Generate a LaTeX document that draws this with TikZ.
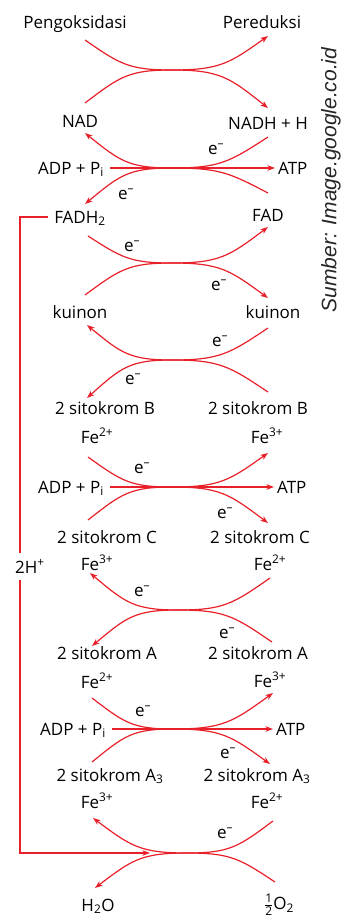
\documentclass[tikz,border=0pt]{standalone}
\usepackage{fontspec}
\setmainfont{Open Sans}
\newfontfamily\srcfont{Liberation Sans}
\usetikzlibrary{arrows.meta,calc}
\definecolor{rd}{RGB}{232,32,42}
\newcommand\xarc[3]{%
 \draw[flow] let \p1=(#1),\p2=(#2),\p3=(#3) in
 (\p1) .. controls ({\x1+0.4*(\x2-\x1)},{\y1+0.8*(\y2-\y1)}) and ({\x2-0.5*(\x2-\x1)},\y2) .. (\p2)
 .. controls ({\x2+0.5*(\x3-\x2)},\y2) and ({\x3-0.4*(\x3-\x2)},{\y3-0.8*(\y3-\y2)}) .. (\p3);}
\newcommand\el{e\textsuperscript{\textendash}}
\newcommand\halfdigit[1]{\mbox{\fontsize{12}{12}\selectfont #1}}
\begin{document}
\begin{tikzpicture}[x=1pt,y=-1pt,
 lbl/.style={font=\fontsize{17}{20}\selectfont, inner sep=0pt, text height=12pt, text depth=0pt},
 elbl/.style={lbl},
 flow/.style={draw=rd, line width=1.2pt, -{Stealth[length=7.5pt,width=5.5pt,inset=2pt]}},
 plain/.style={draw=rd, line width=1.2pt}]
\useasboundingbox (0,0) rectangle (347,921);
% labels
\node[lbl] (peng) at (75,22) {Pengoksidasi};
\node[lbl] (pered) at (262,22) {Pereduksi};
\node[lbl] (nad) at (80,121) {NAD};
\node[lbl] (nadh) at (268,123) {NADH + H};
\node[elbl] (e1) at (216,148) {\el};
\node[lbl,anchor=east] (adp1) at (104,168) {ADP + P\textsubscript{i}};
\node[lbl,anchor=west] (atp1) at (278,168) {ATP};
\node[elbl] (e2) at (126,193) {\el};
\node[lbl] (fadh) at (80,217) {FADH\textsubscript{2}};
\node[lbl] (fad) at (268,215) {FAD};
\node[elbl] (e3) at (132,245) {\el};
\node[elbl] (e4) at (219,284) {\el};
\node[lbl] (kui1) at (80,312) {kuinon};
\node[lbl] (kui2) at (273,312) {kuinon};
\node[elbl] (e5) at (220,340) {\el};
\node[elbl] (e6) at (133,378) {\el};
\node[lbl] (sb1) at (105,408) {2 sitokrom B};
\node[lbl] (sb2) at (258,408) {2 sitokrom B};
\node[lbl] (fb1) at (97,437) {Fe\textsuperscript{2+}};
\node[lbl] (fb2) at (267,437) {Fe\textsuperscript{3+}};
\node[elbl] (e7) at (142,467) {\el};
\node[lbl,anchor=east] (adp2) at (104,487) {ADP + P\textsubscript{i}};
\node[lbl,anchor=west] (atp2) at (277,487) {ATP};
\node[elbl] (e8) at (225,512) {\el};
\node[lbl] (sc1) at (107,537) {2 sitokrom C};
\node[lbl] (sc2) at (260,537) {2 sitokrom C};
\node[lbl] (hp) at (30,567) {2H\textsuperscript{+}};
\node[lbl] (fc1) at (97,564) {Fe\textsuperscript{3+}};
\node[lbl] (fc2) at (270,564) {Fe\textsuperscript{2+}};
\node[elbl] (e9) at (142,590) {\el};
\node[elbl] (e10) at (227,632) {\el};
\node[lbl] (sa1) at (107,653) {2 sitokrom A};
\node[lbl] (sa2) at (258,653) {2 sitokrom A};
\node[lbl] (fa1) at (97,682) {Fe\textsuperscript{2+}};
\node[lbl] (fa2) at (270,681) {Fe\textsuperscript{3+}};
\node[elbl] (e11) at (143,710) {\el};
\node[lbl,anchor=east] (adp3) at (106,729) {ADP + P\textsubscript{i}};
\node[lbl,anchor=west] (atp3) at (276,729) {ATP};
\node[elbl] (e12) at (228,752) {\el};
\node[lbl] (s31) at (110,775) {2 sitokrom A\textsubscript{3}};
\node[lbl] (s32) at (257,775) {2 sitokrom A\textsubscript{3}};
\node[lbl] (f31) at (97,802) {Fe\textsuperscript{3+}};
\node[lbl] (f32) at (267,802) {Fe\textsuperscript{2+}};
\node[elbl] (e13) at (225,832) {\el};
\node[lbl] (h2o) at (98,905) {H\textsubscript{2}O};
\node[font=\fontsize{17}{20}\selectfont, inner sep=0pt] (o2) at (279,905) {$\frac{\halfdigit{1}}{\halfdigit{2}}$O\textsubscript{2}};
\node[rotate=90, font=\srcfont\itshape\fontsize{21}{24}\selectfont, text=black!85] (src) at (331,180) {Sumber: Image.google.co.id};
% crossing points
\coordinate (c1) at (172,70);
\coordinate (c2) at (172,168);
\coordinate (c3) at (172,263);
\coordinate (c4) at (172,360);
\coordinate (c5) at (172,487);
\coordinate (c6) at (178,610);
\coordinate (c7) at (173,729);
\coordinate (c8) at (187,853);
% arc ends
\coordinate (u1a) at (85,40);   \coordinate (u1b) at (268,36);
\coordinate (n1a) at (85,103);  \coordinate (n1b) at (268,108);
\coordinate (u2a) at (268,137); \coordinate (u2b) at (85,133);
\coordinate (n2a) at (268,193); \coordinate (n2b) at (85,204);
\coordinate (u3a) at (88,236);  \coordinate (u3b) at (268,227);
\coordinate (n3a) at (85,295);  \coordinate (n3b) at (268,298);
\coordinate (u4a) at (268,328); \coordinate (u4b) at (87,325);
\coordinate (n4a) at (268,392); \coordinate (n4b) at (87,398);
\coordinate (u5a) at (88,457);  \coordinate (u5b) at (268,453);
\coordinate (n5a) at (88,520);  \coordinate (n5b) at (268,523);
\coordinate (u6a) at (270,578); \coordinate (u6b) at (90,573);
\coordinate (n6a) at (272,642); \coordinate (n6b) at (92,646);
\coordinate (u7a) at (92,698);  \coordinate (u7b) at (273,693);
\coordinate (n7a) at (92,762);  \coordinate (n7b) at (270,764);
\coordinate (u8a) at (273,821); \coordinate (u8b) at (93,818);
\coordinate (n8a) at (275,882); \coordinate (n8b) at (95,888);
\foreach \i in {1,...,8}{\xarc{u\i a}{c\i}{u\i b}\xarc{n\i a}{c\i}{n\i b}}
% ADP -> ATP
\draw[flow, shorten <=6pt, shorten >=3pt] (adp1.east) -- (atp1.west);
\draw[flow, shorten <=6pt, shorten >=3pt] (adp2.east) -- (atp2.west);
\draw[flow, shorten <=6pt, shorten >=3pt] (adp3.east) -- (atp3.west);
% 2H+ line
\coordinate (htop) at (20,553);
\coordinate (hbot) at (20,580);
\coordinate (hin) at (150,853);
\draw[plain] ([xshift=-6pt]fadh.west) -| (htop);
\draw[flow] (hbot) |- (hin);
\end{tikzpicture}
\end{document}
